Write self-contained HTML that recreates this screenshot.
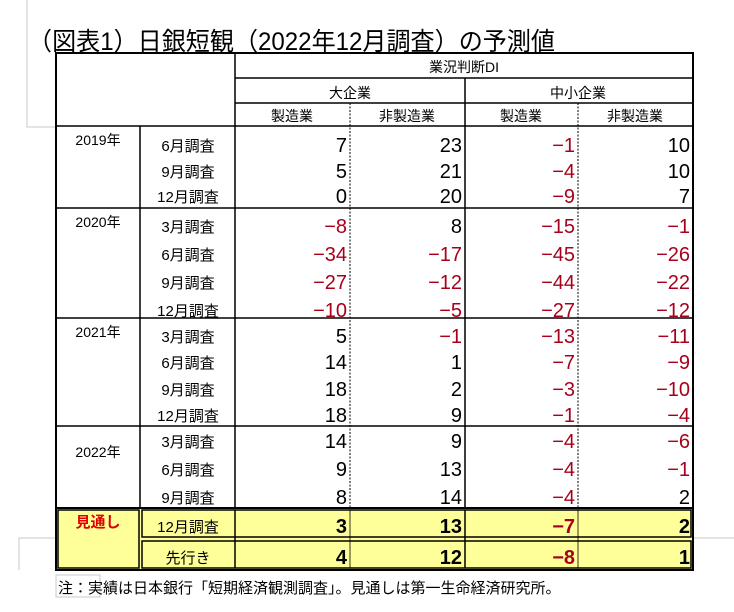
<!DOCTYPE html><html><head><meta charset="utf-8"><style>body{margin:0;background:#fff}svg{display:block}text{font-family:"Liberation Sans","Noto Sans CJK JP",sans-serif}</style></head><body>
<svg width="734" height="612" xmlns="http://www.w3.org/2000/svg">
<g stroke="#c8c8c8" fill="none"><path d="M27 0V127H56"/><path d="M19 570V538H56"/><path d="M693 538H734"/><rect x="56" y="575" width="44" height="22"/></g>
<text x="28" y="50" font-size="25" fill="#000" textLength="527" lengthAdjust="spacingAndGlyphs">（図表1）日銀短観（2022年12月調査）の予測値</text>
<g stroke="#000" fill="none">
<rect x="56" y="53" width="637" height="455" stroke-width="2"/>
<path d="M235 53V508M56 126H693M235 78H693M235 103H693M465 78V508M140 126V508M56 208H693M56 318H693M56 426H693" stroke-width="1.5"/>
<path d="M350 103V508M578 103V508" stroke="#000" stroke-width="1" stroke-dasharray="2,1.5"/>
</g>
<rect x="56" y="508" width="637" height="62" fill="#ffff99" stroke="#000" stroke-width="2"/>
<g stroke="#000" fill="none" stroke-width="1.5"><rect x="58" y="510" width="81" height="58"/><rect x="142" y="510" width="549" height="27"/><rect x="142" y="541" width="549" height="27"/><path d="M235 510V568M465 510V568"/></g>
<path d="M350 510V568M578 510V568" stroke="#000" stroke-width="0.8"/>
<g font-size="14" text-anchor="middle"><text x="464" y="72">業況判断DI</text><text x="350" y="98">大企業</text><text x="578" y="98">中小企業</text>
<text x="292" y="121">製造業</text><text x="407" y="121">非製造業</text><text x="521" y="121">製造業</text><text x="635" y="121">非製造業</text>
<text x="98" y="145">2019年</text><text x="98" y="227">2020年</text><text x="98" y="337">2021年</text><text x="98" y="457">2022年</text>
<text x="98" y="527" fill="#e00000" font-weight="bold" font-size="15">見通し</text></g>
<g font-size="15" text-anchor="middle" id="m"></g>
<g id="n" font-size="20" text-anchor="end"></g>
</svg>
<script>
const rows=[["6月調査",151,7,23,-1,10],["9月調査",177,5,21,-4,10],["12月調査",202,0,20,-9,7],
["3月調査",232,-8,8,-15,-1],["6月調査",260,-34,-17,-45,-26],["9月調査",288,-27,-12,-44,-22],["12月調査",316,-10,-5,-27,-12],
["3月調査",342,5,-1,-13,-11],["6月調査",368,14,1,-7,-9],["9月調査",395,18,2,-3,-10],["12月調査",421,18,9,-1,-4],
["3月調査",447,14,9,-4,-6],["6月調査",475,9,13,-4,-1],["9月調査",503,8,14,-4,2],["12月調査",532,3,13,-7,2],["先行き",563,4,12,-8,1]];
const ns="http://www.w3.org/2000/svg",m=document.getElementById("m"),n=document.getElementById("n"),xs=[347,462,575,690];
rows.forEach((r,i)=>{let t=document.createElementNS(ns,"text");t.setAttribute("x",188);t.setAttribute("y",r[1]);t.textContent=r[0];m.appendChild(t);
for(let j=0;j<4;j++){let v=r[2+j],e=document.createElementNS(ns,"text");e.setAttribute("x",xs[j]);e.setAttribute("y",r[1]+1);
e.setAttribute("fill",v<0?"#a8001c":"#000");if(i>=14)e.setAttribute("font-weight","bold");e.textContent=v<0?"−"+(-v):v;n.appendChild(e);}});
</script>
<div style="position:absolute;left:58px;top:577px;font:15px 'Liberation Sans','Noto Sans CJK JP',sans-serif">注：実績は日本銀行「短期経済観測調査」。見通しは第一生命経済研究所。</div>
</body></html>
